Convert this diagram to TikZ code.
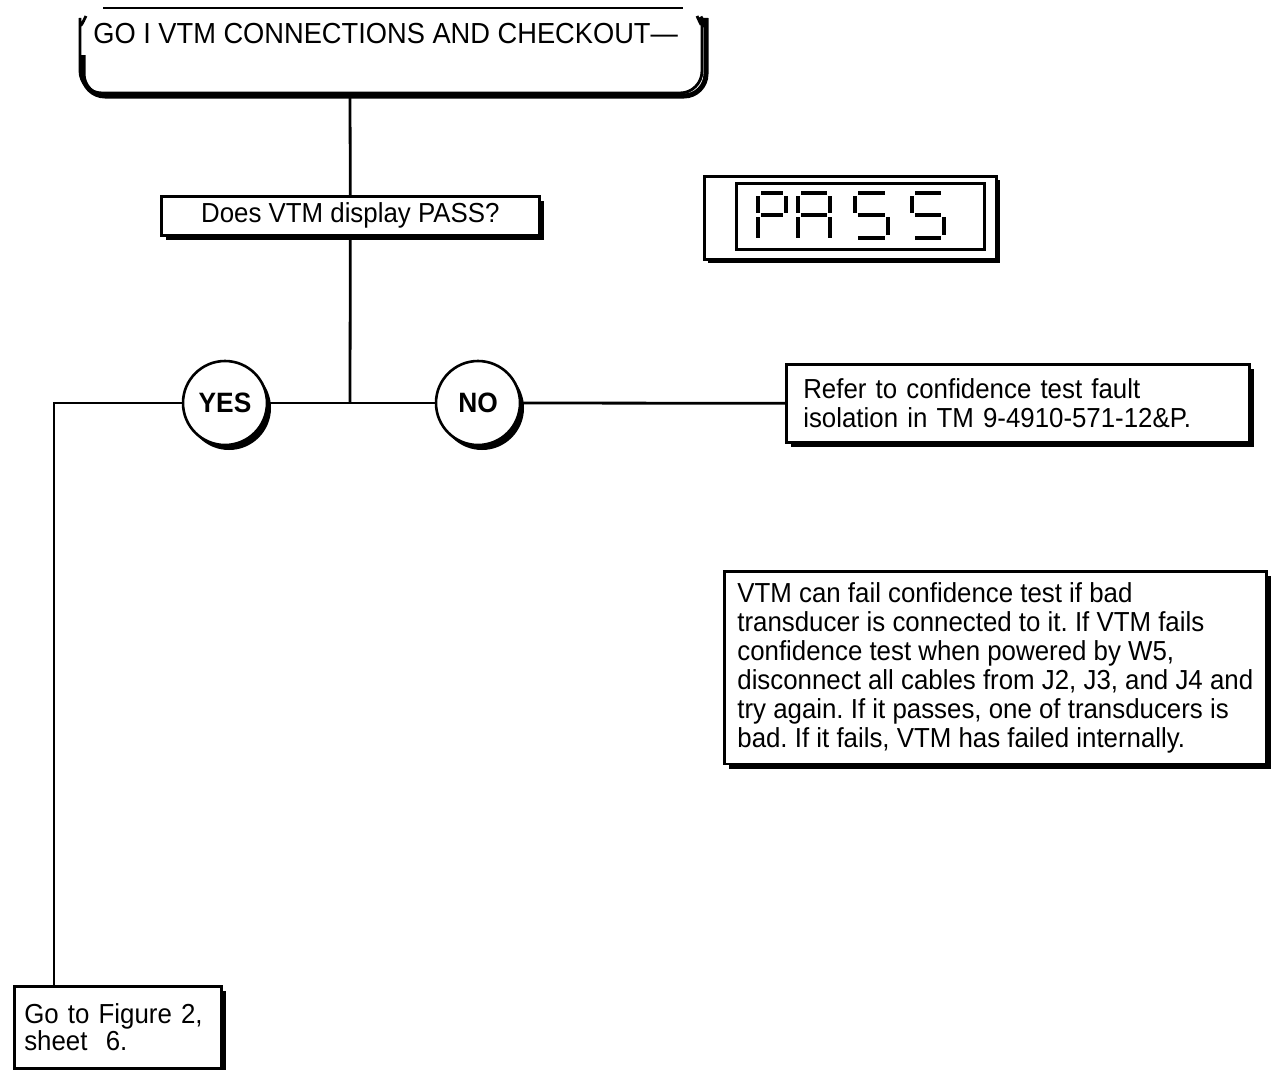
\documentclass[tikz,border=0pt]{standalone}
\usepackage{fontspec}
\setmainfont{Liberation Sans}
\newfontfamily\tallsans[FakeStretch=0.94]{Liberation Sans}
\usetikzlibrary{shadows,calc}
\frenchspacing
\begin{document}
\frenchspacing
\begin{tikzpicture}[x=1pt,y=-1pt,line width=2.6pt,
  shbox/.style={draw,line width=2.6pt,fill=white,rectangle,inner sep=0pt,
    drop shadow={shadow xshift=5pt,shadow yshift=-5pt,fill=black,opacity=1}},
  txt/.style={font=\tallsans\fontsize{27.5}{29}\selectfont},
  circ/.style={circle,draw,line width=2.6pt,fill=white,minimum size=84pt,inner sep=0pt,
    font=\tallsans\bfseries\fontsize{28}{28}\selectfont,
    drop shadow={shadow xshift=4pt,shadow yshift=-5pt,fill=black,opacity=1}},
  conn/.style={line width=2.8pt},
  seg/.style={line width=4pt}]
\useasboundingbox (0,0) rectangle (1275,1069);

% top box
\draw[line width=2.8pt] (103,8) -- (683,8);
\draw[line width=5pt,rounded corners=22pt] (83,55) -- (83,96) -- (706,96) -- (706,40) .. controls (706,30) and (704,24) .. (700,17);
\draw[line width=2.8pt,rounded corners=22pt] (86,16) .. controls (82,24) and (80,30) .. (80,40) -- (80,93) -- (702,93) -- (702,40) .. controls (702,30) and (700,22) .. (697,16);
\node[anchor=base west,inner sep=0pt,font=\tallsans\fontsize{29}{30}\selectfont] (title) at (92,43) {GO I VTM CONNECTIONS AND CHECKOUT—};
\coordinate (titlebottom) at (350,95);

% question
\node[shbox,txt,anchor=north west,minimum width=378pt,minimum height=39pt] (q) at (160,195) {Does VTM display PASS?};

% PASS display
\node[draw,line width=3pt,fill=white,anchor=north west,minimum width=292pt,minimum height=83pt,inner sep=0pt,
  drop shadow={shadow xshift=3pt,shadow yshift=-3pt,fill=black,opacity=1}] (disp) at (703,175) {};
\node[draw,line width=2.8pt,anchor=north west,minimum width=248pt,minimum height=66pt,inner sep=0pt] (dispin) at (735,182) {};
% P
\draw[seg] (761,193)--(783,193) (758,196)--(758,213) (758,217)--(758,238) (786,196)--(786,213) (761,215)--(783,215);
% A
\draw[seg] (801,193)--(827,193) (798,196)--(798,213) (798,217)--(798,238) (830,196)--(830,213) (830,217)--(830,238) (801,215)--(827,215);
% S
\draw[seg] (858,193)--(885,193) (855,196)--(855,213) (858,215)--(885,215) (888,217)--(888,235) (858,238)--(885,238);
% S
\draw[seg] (915,193)--(941,193) (912,196)--(912,213) (915,215)--(941,215) (944,217)--(944,235) (915,238)--(941,238);

% junction and circles
\coordinate (j) at (350,403);
\coordinate (corner) at (54,403);
\node[circ] (yes) at (225,403) {YES};
\node[circ] (no) at (478,403) {NO};

% refer box
\node[shbox,txt,anchor=north west,minimum width=463pt,minimum height=78pt,text width=429pt,inner xsep=17pt,align=left] (refer) at (785,363) {Refer to confidence test fault\\isolation in TM 9-4910-571-12\&P.};

% note box
\node[shbox,txt,anchor=north west,minimum width=542pt,inner xsep=8pt,inner ysep=11pt,align=left] (note) at (723,570) {VTM can fail confidence test if bad\\transducer is connected to it. If VTM fails\\confidence test when powered by W5,\\disconnect all cables from J2, J3, and J4 and\\try again. If it passes, one of transducers is\\bad. If it fails, VTM has failed internally.};

% bottom box
\node[shbox,anchor=north west,minimum width=207pt,minimum height=82pt,text width=187pt,inner xsep=10pt,align=left,
  font=\tallsans\fontsize{27.5}{25}\selectfont] (bot) at (13,985) {Go to Figure 2,\\sheet\ \ 6.};

% connectors
\draw[conn] (titlebottom) -- (q.north);
\draw[conn] (q.south) -- (j);
\draw[conn] (j) -- (yes.east);
\draw[conn] (j) -- (no.west);
\draw[conn] (no.east) -- (refer.west);
\draw[conn] (yes.west) -- (corner) -- (corner |- bot.north);
\end{tikzpicture}
\end{document}
